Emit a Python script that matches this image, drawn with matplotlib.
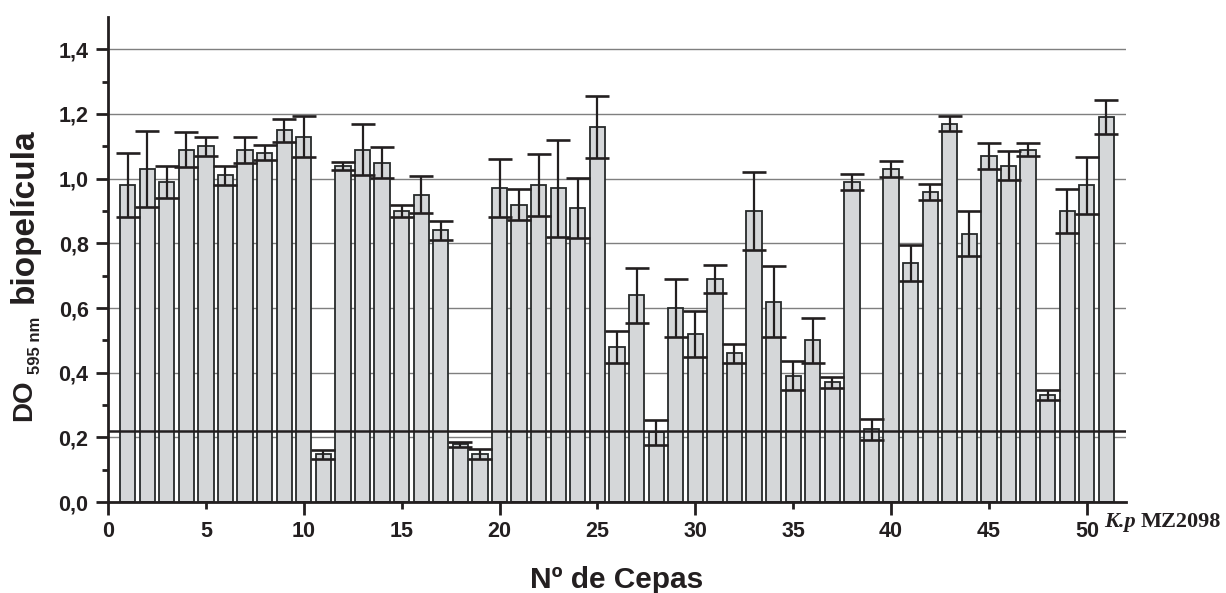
import numpy as np
import matplotlib.pyplot as plt

plt.rcParams['font.family'] = ['Liberation Sans', 'DejaVu Sans']

# strain number 1..51, OD595 of biofilm and the error bar (+/-)
cepas = np.arange(1, 52)
do595 = [0.98, 1.03, 0.99, 1.09, 1.10, 1.01, 1.09, 1.08, 1.15, 1.13,
         0.148, 1.04, 1.09, 1.05, 0.90, 0.95, 0.84, 0.178, 0.148, 0.97,
         0.92, 0.98, 0.97, 0.91, 1.16, 0.48, 0.64, 0.215, 0.60, 0.52,
         0.69, 0.46, 0.90, 0.62, 0.39, 0.50, 0.37, 0.99, 0.225, 1.03,
         0.74, 0.96, 1.17, 0.83, 1.07, 1.04, 1.09, 0.33, 0.90, 0.98,
         1.19]
err = [0.10, 0.117, 0.05, 0.053, 0.03, 0.03, 0.04, 0.023, 0.036, 0.063,
       0.014, 0.013, 0.08, 0.047, 0.018, 0.057, 0.029, 0.008, 0.015, 0.09,
       0.047, 0.095, 0.15, 0.092, 0.097, 0.05, 0.085, 0.04, 0.09, 0.07,
       0.043, 0.03, 0.12, 0.11, 0.045, 0.07, 0.018, 0.025, 0.032, 0.025,
       0.055, 0.025, 0.023, 0.07, 0.04, 0.045, 0.02, 0.015, 0.068, 0.088,
       0.052]
corte = 0.22  # reference strain K.p MZ2098 cut-off

yticks = np.arange(0, 1.41, 0.2)
ylabels = ['0,0', '0,2', '0,4', '0,6', '0,8', '1,0', '1,2', '1,4']

W, H = 1226, 593
fig = plt.figure(figsize=(W / 100, H / 100), dpi=100)
ax = fig.add_axes([108/W, 91/H, 1018/W, 485/H])

ax.bar(cepas, do595, width=0.78, color='#d5d7d9', edgecolor='#262a2a',
       linewidth=1.3, zorder=2)
ax.errorbar(cepas, do595, yerr=err, fmt='none', ecolor='#231f20',
            elinewidth=1.6, capsize=8.5, capthick=1.9, zorder=3)
ax.axhline(corte, color='#231f20', lw=1.8, zorder=4)

ax.set_xlim(0, 52)
ax.set_ylim(0, 1.5)
ax.set_yticks(yticks)
ax.set_yticklabels(ylabels)
ax.set_yticks(np.arange(0.1, 1.5, 0.2), minor=True)
ax.set_xticks(np.arange(0, 51, 10))
ax.set_xticks(np.arange(5, 51, 10), minor=True)
ax.set_xticklabels([str(v) for v in range(0, 51, 10)])
ax.set_xticklabels([str(v) for v in range(5, 51, 10)], minor=True)

for t in ax.get_xticklabels(which='both') + ax.get_yticklabels():
    t.set_fontsize(15.5)
    t.set_fontweight('bold')
    t.set_color('#231f20')

ax.tick_params(which='major', direction='out', length=9, width=2, color='#231f20', pad=5)
ax.tick_params(which='minor', direction='out', length=4.5, width=2, color='#231f20', pad=5)
ax.tick_params(axis='x', which='minor', length=5, pad=9)

ax.grid(axis='y', which='major', color='#7f7f7f', lw=1.0, zorder=0)
ax.set_axisbelow(True)

for s in ['top', 'right']:
    ax.spines[s].set_visible(False)
for s in ['left', 'bottom']:
    ax.spines[s].set_linewidth(2)
    ax.spines[s].set_color('#231f20')

ax.set_xlabel('Nº de Cepas', fontsize=21.5, fontweight='bold', color='#231f20', labelpad=17)

# y label built from pieces: DO, subscript 595 nm, biopelícula
fig.text(24/W, 1 - 421/H, 'DO', rotation=90, fontsize=20, fontweight='bold',
         ha='center', va='bottom', color='#231f20')
fig.text(36/W, 1 - 374/H, '595 nm', rotation=90, fontsize=12, fontweight='bold',
         ha='center', va='bottom', color='#231f20')
fig.text(24/W, 1 - 303/H, 'biopelícula', rotation=90, fontsize=24, fontweight='bold',
         ha='center', va='bottom', color='#231f20')

fig.text(1104/W, 1 - 522/H, 'K.p', family='Liberation Serif', fontsize=16,
         fontweight='bold', style='italic', va='center', ha='left', color='#231f20')
fig.text(1141/W, 1 - 522/H, 'MZ2098', family='Liberation Serif', fontsize=16,
         fontweight='bold', va='center', ha='left', color='#231f20')

fig.savefig('out.png', dpi=100)
